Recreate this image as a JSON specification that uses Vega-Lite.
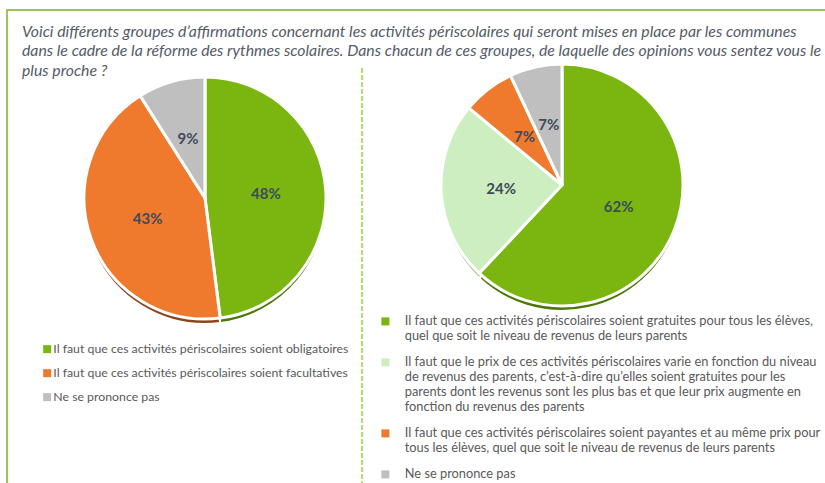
{
  "$schema": "https://vega.github.io/schema/vega-lite/v6.json",
  "width": 825,
  "height": 483,
  "autosize": {"type": "fit", "contains": "padding"},
  "padding": {"left": 7, "top": 10, "right": -3, "bottom": -3},
  "background": "white",
  "title": {
    "text": [
      "Voici différents groupes d’affirmations concernant les activités périscolaires qui seront mises en place par les communes",
      "dans le cadre de la réforme des rythmes scolaires. Dans chacun de ces groupes, de laquelle des opinions vous sentez vous le",
      "plus proche ?"
    ],
    "anchor": "start",
    "frame": "group",
    "offset": -70,
    "baseline": "top",
    "font": "Lato",
    "fontStyle": "italic",
    "fontWeight": "normal",
    "fontSize": 15.8,
    "lineHeight": 19.7,
    "color": "#545b66",
    "dx": 15
  },
  "config": {
    "view": {"stroke": "#9bc35a", "strokeWidth": 2},
    "legend": {
      "title": null,
      "orient": "none",
      "symbolType": "square",
      "symbolSize": 64,
      "symbolStrokeWidth": 0,
      "labelFont": "Lato",
      "labelColor": "#595959",
      "labelLimit": 600,
      "labelBaseline": "middle"
    }
  },
  "data": {
    "values": [
      {"question": "Q1", "ordre": 1, "pct": 48, "reponse": "Il faut que ces activités périscolaires soient obligatoires"},
      {"question": "Q1", "ordre": 2, "pct": 43, "reponse": "Il faut que ces activités périscolaires soient facultatives"},
      {"question": "Q1", "ordre": 3, "pct": 9, "reponse": "Ne se prononce pas"},
      {"question": "Q2", "ordre": 1, "pct": 62, "reponse": "Il faut que ces activités périscolaires soient gratuites pour tous les élèves,|quel que soit le niveau de revenus de leurs parents"},
      {"question": "Q2", "ordre": 2, "pct": 24, "reponse": "Il faut que le prix de ces activités périscolaires varie en fonction du niveau|de revenus des parents, c’est-à-dire qu’elles soient gratuites pour les|parents dont les revenus sont les plus bas et que leur prix augmente en|fonction du revenus des parents"},
      {"question": "Q2", "ordre": 3, "pct": 7, "reponse": "Il faut que ces activités périscolaires soient payantes et au même prix pour|tous les élèves, quel que soit le niveau de revenus de leurs parents"},
      {"question": "Q2", "ordre": 4, "pct": 7, "reponse": "Ne se prononce pas"}
    ]
  },
  "encoding": {
    "x": {"field": "question", "type": "nominal", "scale": {"type": "band", "domain": ["Q1", "Q2"], "range": [19.5, 733.5], "paddingInner": 0, "paddingOuter": 0}, "axis": null},
    "y": {"field": "question", "type": "nominal", "scale": {"type": "point", "domain": ["Q1", "Q2"], "range": [188, 175], "padding": 0}, "axis": null},
    "theta": {"field": "pct", "type": "quantitative", "stack": true},
    "order": {"field": "ordre", "type": "quantitative"}
  },
  "layer": [
    {
      "data": {"values": [{"question": "Q1"}]},
      "mark": {"type": "rule", "color": "#b0da6a", "strokeWidth": 2, "strokeDash": [5, 2], "y": 58, "y2": "height"},
      "encoding": {
        "x": {"field": "question", "type": "nominal", "bandPosition": 0.94},
        "y": null, "theta": null, "order": null
      }
    },
    {
      "transform": [{"filter": "datum.question == 'Q1'"}],
      "mark": {"type": "arc", "outerRadius": 121, "yOffset": 5, "stroke": "white", "strokeWidth": 2},
      "encoding": {
        "color": {"field": "reponse", "type": "nominal", "legend": null,
          "scale": {"domain": ["Il faut que ces activités périscolaires soient obligatoires", "Il faut que ces activités périscolaires soient facultatives", "Ne se prononce pas"], "range": ["#4c7808", "#8e4318", "#5e5e5e"]}}
      }
    },
    {
      "transform": [{"filter": "datum.question == 'Q1'"}],
      "mark": {"type": "arc", "outerRadius": 121, "stroke": "white", "strokeWidth": 3},
      "encoding": {
        "color": {"field": "reponse", "type": "nominal",
          "scale": {"domain": ["Il faut que ces activités périscolaires soient obligatoires", "Il faut que ces activités périscolaires soient facultatives", "Ne se prononce pas"], "range": ["#7ab60f", "#ef7a2d", "#bfbfbf"]},
          "legend": {"legendX": 34, "legendY": 333, "rowPadding": 11, "labelOffset": 0, "labelFontSize": 12.3}}
      }
    },
    {
      "transform": [{"filter": "datum.question == 'Q1'"}],
      "mark": {"type": "text", "radius": 61, "font": "Lato", "fontWeight": "bold", "fontSize": 15, "color": "#3f4a5c", "text": {"expr": "datum.pct + '%'"}}
    },
    {
      "transform": [{"filter": "datum.question == 'Q2'"}],
      "mark": {"type": "arc", "outerRadius": 121, "yOffset": 5, "stroke": "white", "strokeWidth": 2},
      "encoding": {
        "color": {"field": "reponse", "type": "nominal", "legend": null,
          "scale": {"domain": ["Il faut que ces activités périscolaires soient gratuites pour tous les élèves,|quel que soit le niveau de revenus de leurs parents", "Il faut que le prix de ces activités périscolaires varie en fonction du niveau|de revenus des parents, c’est-à-dire qu’elles soient gratuites pour les|parents dont les revenus sont les plus bas et que leur prix augmente en|fonction du revenus des parents", "Il faut que ces activités périscolaires soient payantes et au même prix pour|tous les élèves, quel que soit le niveau de revenus de leurs parents", "Ne se prononce pas"], "range": ["#4c7808", "#9fbf8f", "#8e4318", "#5e5e5e"]}}
      }
    },
    {
      "transform": [{"filter": "datum.question == 'Q2'"}],
      "mark": {"type": "arc", "outerRadius": 121, "stroke": "white", "strokeWidth": 3},
      "encoding": {
        "color": {"field": "reponse", "type": "nominal",
          "scale": {"domain": ["Il faut que ces activités périscolaires soient gratuites pour tous les élèves,|quel que soit le niveau de revenus de leurs parents", "Il faut que le prix de ces activités périscolaires varie en fonction du niveau|de revenus des parents, c’est-à-dire qu’elles soient gratuites pour les|parents dont les revenus sont les plus bas et que leur prix augmente en|fonction du revenus des parents", "Il faut que ces activités périscolaires soient payantes et au même prix pour|tous les élèves, quel que soit le niveau de revenus de leurs parents", "Ne se prononce pas"], "range": ["#7ab60f", "#cdeec0", "#ef7a2d", "#bfbfbf"]},
          "legend": {"legendX": 372, "legendY": 305, "rowPadding": 13, "labelOffset": 13, "labelFontSize": 12.8, "labelExpr": "split(datum.label, '|')",
            "encode": {"labels": {"update": {"lineHeight": {"value": 16}}}}}}
      }
    },
    {
      "transform": [{"filter": "datum.question == 'Q2'"}],
      "mark": {"type": "text", "radius": 61, "font": "Lato", "fontWeight": "bold", "fontSize": 15, "color": "#3f4a5c", "text": {"expr": "datum.pct + '%'"}}
    }
  ],
  "resolve": {"scale": {"color": "independent"}, "legend": {"color": "independent"}}
}
